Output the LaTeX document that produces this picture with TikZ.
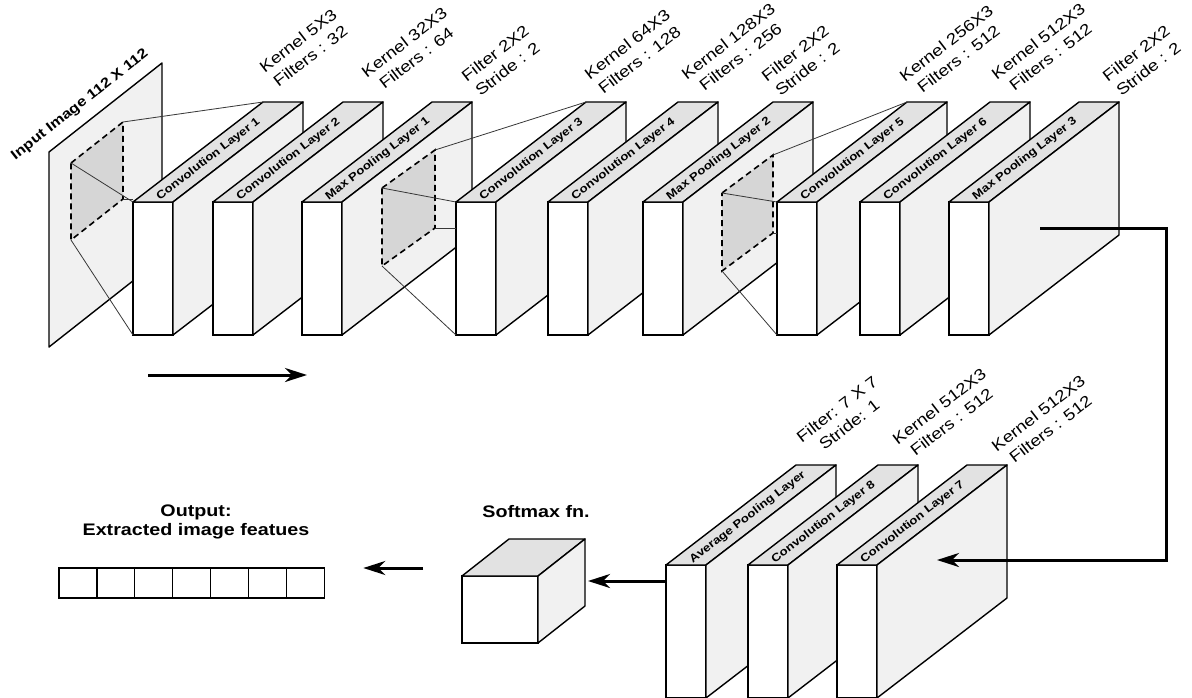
\documentclass[tikz,border=0pt]{standalone}
\usepackage{fontspec}
\setmainfont{Liberation Sans}[FakeStretch=1.18]
\usepackage{tikz}
\usetikzlibrary{arrows.meta,positioning,calc}
\definecolor{topgray}{RGB}{226,226,226}
\definecolor{sidegray}{RGB}{241,241,241}
\definecolor{fieldgray}{RGB}{214,214,214}
\definecolor{projgray}{RGB}{55,55,55}
\tikzset{
  layerfront/.style={rectangle,draw,fill=white,line width=1.4pt,minimum width=40pt,
    minimum height=133pt,inner sep=0pt,outer sep=0pt,anchor=north west},
  layertop/.style={draw,fill=topgray,line width=1.4pt,line join=round},
  layerside/.style={draw,fill=sidegray,line width=1.4pt,line join=round},
  layername/.style={rotate=37.6,anchor=west,inner sep=0pt,
    font=\fontsize{11.2}{12}\selectfont\bfseries},
  hyperlabel/.style={rotate=37.6,anchor=base west,inner sep=0pt,align=center,
    font=\fontsize{15.8}{20}\selectfont},
  planename/.style={rotate=38.2,inner sep=0pt,font=\fontsize{13.9}{16}\selectfont\bfseries},
  fieldbox/.style={draw,dash pattern=on 6pt off 4pt,fill=fieldgray,line width=1.6pt},
  projline/.style={draw=projgray,line width=0.8pt},
  flowarrow/.style={-{Stealth[length=22pt,width=14pt,inset=7pt]},line width=3pt},
  featbox/.style={rectangle,draw,line width=1.3pt,minimum width=37.9pt,minimum height=30pt,
    inner sep=0pt,outer sep=0pt},
  boldnote/.style={align=center,inner sep=0pt,font=\fontsize{16.7}{19}\selectfont\bfseries},
}

\begin{document}
\begin{tikzpicture}[x=1pt,y=-1pt]
\useasboundingbox (0,0) rectangle (1192,697);
\clip (0,0) rectangle (1192,697);

% ── Input image plane ────────────────────────────────────────────────────
\draw[layerside] (49,152) -- (162,63) -- (162,258) -- (49,347) -- cycle;
\node[planename] (inlbl) at (80,105) {Input Image 112 X 112};

% ── Layer blocks (top row, then bottom row, left to right) ───────────────
\foreach \n/\x/\y/\txt in {c1/133/202/Convolution Layer 1, c2/213/202/Convolution Layer 2,
    mp1/302/202/Max Pooling Layer 1, c3/456/202/Convolution Layer 3,
    c4/548/202/Convolution Layer 4, mp2/643/202/Max Pooling Layer 2,
    c5/777/202/Convolution Layer 5, c6/860/202/Convolution Layer 6,
    mp3/949/202/Max Pooling Layer 3, avg/666/565/Average Pooling Layer,
    c8/748/565/Convolution Layer 8, c7/837/565/Convolution Layer 7}
{
  \node[layerfront] (\n) at (\x,\y) {};
  \draw[layertop] (\n.north west) -- ++(130,-100) -- ++(40,0) -- (\n.north east) -- cycle;
  \draw[layerside] (\n.north east) -- ++(130,-100) -- ++(0,133) -- (\n.south east) -- cycle;
  \node[layername] (\n-name) at ($(\n.north)+(5,-4)$) {\txt};
}

% ── Receptive fields and projections ─────────────────────────────────────
\coordinate (pf1) at (71,163);  \coordinate (pf2) at (71,240);
\coordinate (pf3) at (123,122); \coordinate (pf4) at (123,199);
\coordinate (mf1) at (382,188); \coordinate (mf2) at (382,266);
\coordinate (mf3) at (435,150); \coordinate (mf4) at (435,228);
\coordinate (nf1) at (722,193); \coordinate (nf2) at (722,271);
\coordinate (nf3) at (773,155); \coordinate (nf4) at (773,233);

\foreach \f/\t in {pf/c1, mf/c3, nf/c5} {
  \draw[fieldbox] (\f1) -- (\f3) -- (\f4) -- (\f2) -- cycle;
  \draw[projline] (\f1) -- (\t.north west);
  \draw[projline] (\f2) -- (\t.south west);
  \draw[projline] (\f3) -- ($(\t.north west)+(130,-100)$);
  \draw[projline] (\f4) -- (\f4 -| \t.west);
}

% ── Hyperparameter labels ────────────────────────────────────────────────
\node[hyperlabel] (c1hp)  at (277,89)  {Kernel 5X3\\Filters : 32};
\node[hyperlabel] (c2hp)  at (379,94)  {Kernel 32X3\\Filters : 64};
\node[hyperlabel] (mp1hp) at (479,98)  {Filter 2X2\\Stride : 2};
\node[hyperlabel] (c3hp)  at (602,96)  {Kernel 64X3\\Filters : 128};
\node[hyperlabel] (c4hp)  at (699,96)  {Kernel 128X3\\Filters : 256};
\node[hyperlabel] (mp2hp) at (779,98)  {Filter 2X2\\Stride : 2};
\node[hyperlabel] (c5hp)  at (917,98)  {Kernel 256X3\\Filters : 512};
\node[hyperlabel] (c6hp)  at (1009,96) {Kernel 512X3\\Filters : 512};
\node[hyperlabel] (mp3hp) at (1120,98) {Filter 2X2\\Stride : 2};
\node[hyperlabel] (avghp) at (814,459) {Filter: 7 X 7\\Stride: 1};
\node[hyperlabel] (c8hp)  at (910,461) {Kernel 512X3\\Filters : 512};
\node[hyperlabel] (c7hp)  at (1009,468) {Kernel 512X3\\Filters : 512};

% ── Softmax cube ─────────────────────────────────────────────────────────
\node[layerfront,minimum width=76pt,minimum height=67pt] (sm) at (462,576) {};
\draw[layertop] (sm.north west) -- ++(47,-37) -- ++(76,0) -- (sm.north east) -- cycle;
\draw[layerside] (sm.north east) -- ++(47,-37) -- ++(0,67) -- (sm.south east) -- cycle;
\node[boldnote] (smlbl) at (536,512) {Softmax fn.};

% ── Output feature vector ────────────────────────────────────────────────
\node[featbox,anchor=north west] (f1) at (59,568) {};
\foreach \i [remember=\i as \j (initially 1)] in {2,...,7}
  \node[featbox,right=0pt of f\j] (f\i) {};
\node[boldnote] (outlbl) at (196,522) {Output:\\Extracted image featues};

% ── Flow arrows ──────────────────────────────────────────────────────────
\coordinate (flowa) at (148,375);
\coordinate (flowb) at (307,375);
\draw[flowarrow] (flowa) -- (flowb);
\draw[flowarrow] ($(mp3.east)+(51,-40)$) -| ($(c7.north east)+(289,-5)$)
  -- ($(c7.north east)+(60,-5)$);
\draw[flowarrow] ($(avg.north west)+(0,16)$) -- ($(sm.north east)+(50,5)$);
\draw[flowarrow,shorten <=39pt,shorten >=39pt] (sm.west |- f7.north) -- (f7.north east);

\end{tikzpicture}
\end{document}
